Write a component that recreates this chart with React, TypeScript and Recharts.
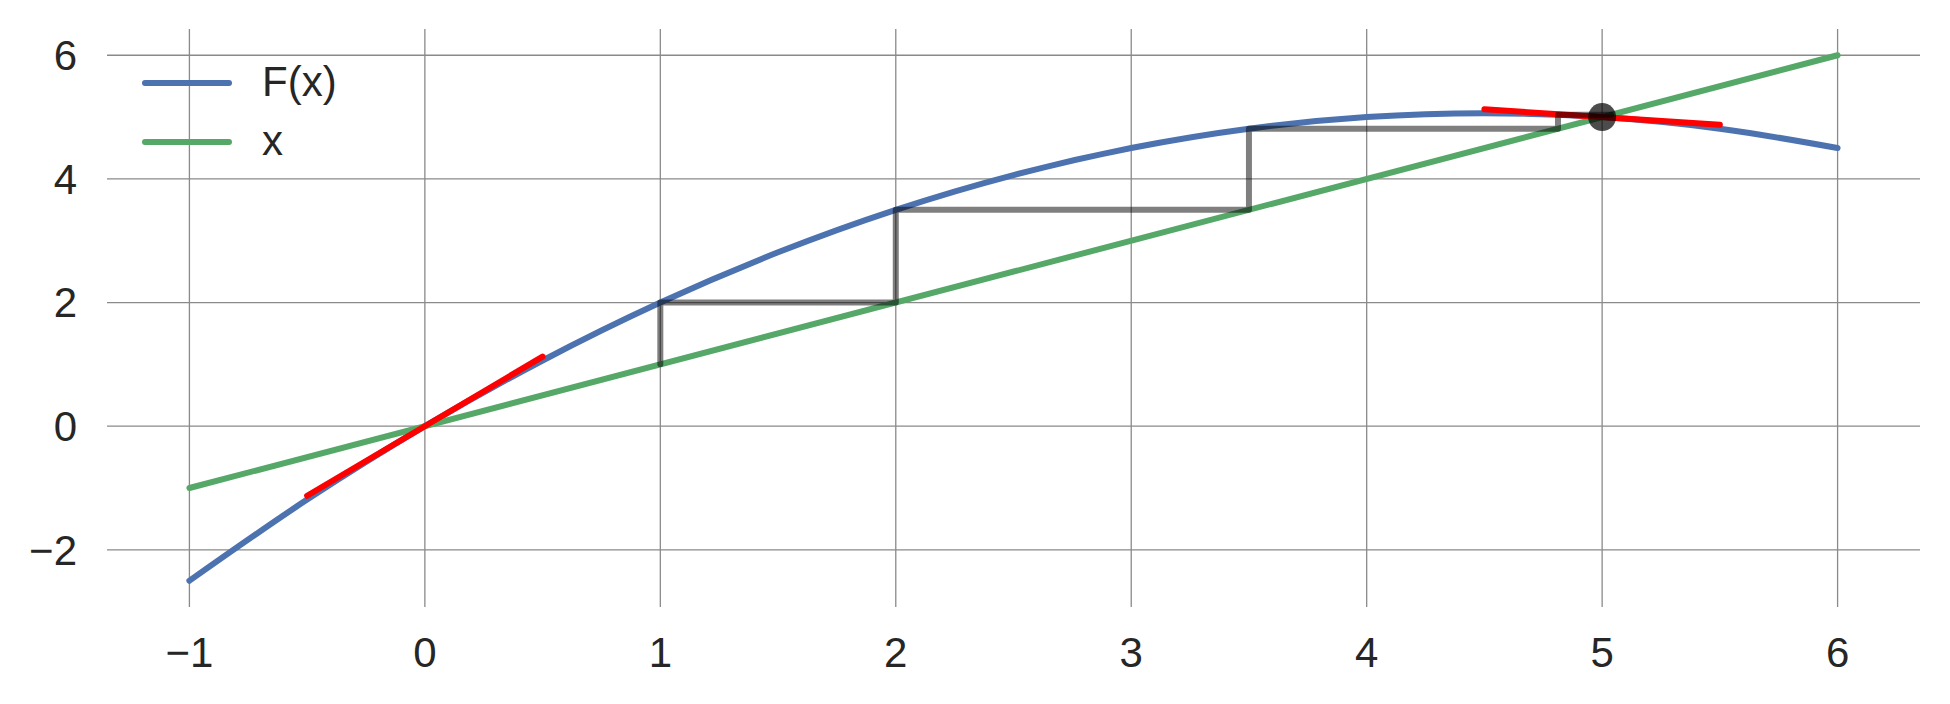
import React from 'react';
import { ComposedChart, Line, Scatter, XAxis, YAxis, ReferenceLine } from 'recharts';

const curveX = [-1, -0.5, 0, 0.5, 1, 1.5, 2, 2.5, 3, 3.5, 4, 4.5, 5, 5.5, 6];
const curveF = [-2.5, -1.1875, 0, 1.0625, 2, 2.8125, 3.5, 4.0625, 4.5, 4.8125, 5, 5.0625, 5, 4.8125, 4.5];
const identityX = [-1, 6];
const identityY = [-1, 6];
const tangent0X = [-0.5, 0.5];
const tangent0Y = [-1.125, 1.125];
const tangent5X = [4.5, 5.5];
const tangent5Y = [5.125, 4.875];
const cobwebX = [1, 1, 2, 2, 3.5, 3.5, 4.8125, 4.8125, 5.038];
const cobwebY = [1, 2, 2, 3.5, 3.5, 4.8125, 4.8125, 5.038, 5.038];
const fixedX = [5];
const fixedY = [5];
const xTicks = [-1, 0, 1, 2, 3, 4, 5, 6];
const yTicks = [-2, 0, 2, 4, 6];
const seriesNames = ['F(x)', 'x'];

const zip = (xs: number[], ys: number[]) => xs.map((x, i) => ({ x, y: ys[i] }));

const BLUE = '#4C72B0';
const GREEN = '#55A868';
const TEXT = '#262626';
const GRID = '#8a8a8a';
const FONT = '"Liberation Sans", Arial, sans-serif';

const fmt = (v: number) => (v < 0 ? '\u2212' + Math.abs(v) : String(v));

export default function App() {
  const lw = 6;
  return (
    <div style={{ position: 'absolute', left: 0, top: 0, width: 1950, height: 704, background: '#fff' }}>
      <ComposedChart
        width={1950}
        height={704}
        margin={{ top: 29, right: 30, left: 27, bottom: 37 }}
      >
        <XAxis
          dataKey="x"
          type="number"
          domain={[-1.35, 6.35]}
          ticks={xTicks}
          allowDataOverflow
          axisLine={false}
          tickLine={false}
          tickSize={0}
          tickMargin={30}
          height={60}
          tickFormatter={fmt}
          tick={{ fill: TEXT, fontSize: 42, fontFamily: FONT }}
        />
        <YAxis
          dataKey="y"
          type="number"
          domain={[-2.925, 6.425]}
          ticks={yTicks}
          allowDataOverflow
          axisLine={false}
          tickLine={false}
          tickSize={0}
          tickMargin={30}
          width={80}
          tickFormatter={fmt}
          tick={{ fill: TEXT, fontSize: 42, fontFamily: FONT }}
        />
        {yTicks.map((t) => (
          <ReferenceLine key={'h' + t} y={t} stroke={GRID} strokeWidth={1.3} />
        ))}
        {xTicks.map((t) => (
          <ReferenceLine key={'v' + t} x={t} stroke={GRID} strokeWidth={1.3} />
        ))}
        <Line
          data={zip(curveX, curveF)}
          dataKey="y"
          type="monotone"
          stroke={BLUE}
          strokeWidth={lw}
          strokeLinecap="round"
          dot={false}
          activeDot={false}
          isAnimationActive={false}
        />
        <Line
          data={zip(identityX, identityY)}
          dataKey="y"
          type="linear"
          stroke={GREEN}
          strokeWidth={lw}
          strokeLinecap="round"
          dot={false}
          activeDot={false}
          isAnimationActive={false}
        />
        <Line
          data={zip(tangent0X, tangent0Y)}
          dataKey="y"
          type="linear"
          stroke="#ff0000"
          strokeWidth={lw}
          strokeLinecap="round"
          dot={false}
          activeDot={false}
          isAnimationActive={false}
        />
        <Line
          data={zip(tangent5X, tangent5Y)}
          dataKey="y"
          type="linear"
          stroke="#ff0000"
          strokeWidth={lw}
          strokeLinecap="round"
          dot={false}
          activeDot={false}
          isAnimationActive={false}
        />
        <Line
          data={zip(cobwebX, cobwebY)}
          dataKey="y"
          type="linear"
          stroke="#000"
          strokeOpacity={0.5}
          strokeWidth={lw}
          strokeLinecap="round"
          strokeLinejoin="round"
          dot={false}
          activeDot={false}
          isAnimationActive={false}
        />
        <Scatter
          data={zip(fixedX, fixedY)}
          dataKey="y"
          isAnimationActive={false}
          shape={(p: any) => <circle cx={p.cx} cy={p.cy} r={14} fill="#000" fillOpacity={0.7} />}
        />
      </ComposedChart>
      <div style={{ position: 'absolute', left: 0, top: 0, width: 1950, height: 704, pointerEvents: 'none' }}>
        {seriesNames.map((name, i) => (
          <div key={name} style={{ position: 'absolute', left: 141, top: 83 + i * 59 - 30, height: 60, display: 'flex', alignItems: 'center' }}>
            <svg width={95} height={60} style={{ display: 'block' }}>
              <line x1={4} y1={30} x2={88} y2={30} stroke={i === 0 ? BLUE : GREEN} strokeWidth={lw} strokeLinecap="round" />
            </svg>
            <span style={{ marginLeft: 26, fontFamily: FONT, fontSize: 42, color: TEXT, lineHeight: '60px', position: 'relative', top: -1 }}>{name}</span>
          </div>
        ))}
      </div>
    </div>
  );
}
